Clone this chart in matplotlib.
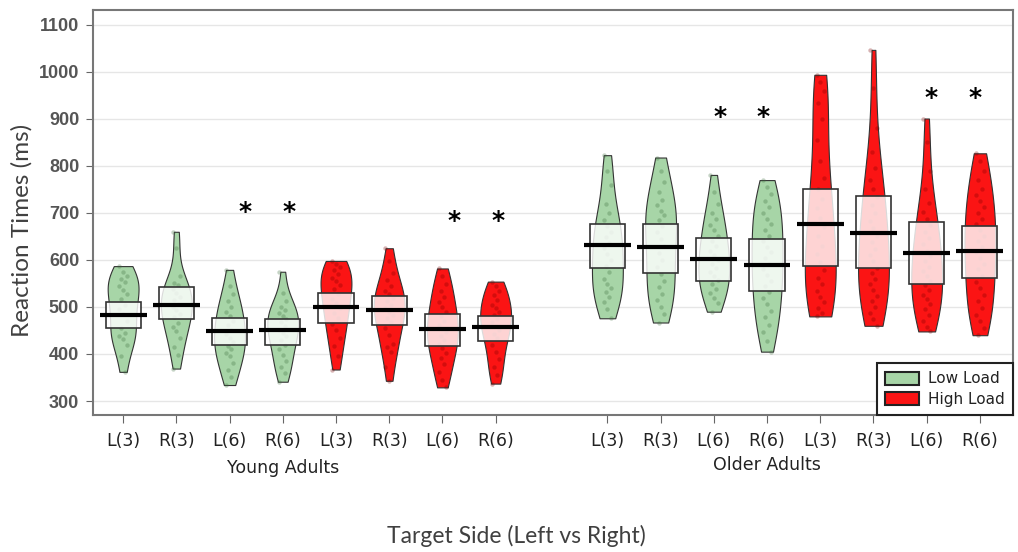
import numpy as np
import matplotlib
matplotlib.use("Agg")
import matplotlib.pyplot as plt
from matplotlib.patches import Patch, Rectangle
from matplotlib.transforms import blended_transform_factory

# ---- data -------------------------------------------------------------
tick_labels = ["L(3)", "R(3)", "L(6)", "R(6)", "L(3)", "R(3)", "L(6)", "R(6)"] * 2
groups = ["Young Adults", "Older Adults"]
loads = ["Low", "Low", "Low", "Low", "High", "High", "High", "High"] * 2

# individual reaction times (ms) per condition
young_low_L3 = [587, 575, 565, 560, 553, 545, 537, 528, 518, 505, 495, 485, 470, 455, 445, 438, 432, 420, 395, 362]
young_low_R3 = [660, 625, 565, 552, 546, 538, 530, 522, 515, 507, 500, 493, 485, 478, 466, 458, 448, 433, 415, 398, 369]
young_low_L6 = [579, 545, 528, 512, 500, 490, 480, 470, 462, 452, 443, 435, 425, 417, 410, 402, 395, 380, 365, 352, 334]
young_low_R6 = [575, 530, 512, 500, 493, 487, 481, 475, 468, 460, 452, 445, 438, 430, 420, 410, 398, 385, 372, 360, 341]
young_high_L3 = [598, 592, 585, 578, 570, 562, 555, 547, 538, 528, 518, 508, 498, 488, 476, 463, 450, 435, 418, 395, 367]
young_high_R3 = [625, 598, 572, 558, 545, 535, 527, 520, 512, 505, 498, 490, 483, 476, 468, 455, 440, 422, 415, 405, 372, 343]
young_high_L6 = [582, 565, 548, 535, 522, 510, 500, 490, 480, 470, 462, 454, 446, 438, 430, 422, 413, 403, 392, 378, 362, 345, 329]
young_high_R6 = [554, 545, 535, 525, 515, 505, 497, 490, 482, 475, 468, 460, 452, 443, 433, 420, 405, 390, 372, 355, 337]
older_low_L3 = [823, 790, 760, 720, 700, 685, 672, 660, 648, 636, 625, 612, 600, 588, 575, 560, 548, 540, 532, 522, 510, 495, 476]
older_low_R3 = [818, 790, 765, 745, 728, 716, 705, 695, 685, 672, 660, 645, 630, 615, 600, 585, 570, 556, 542, 528, 515, 500, 485, 467]
older_low_L6 = [781, 745, 720, 700, 688, 675, 663, 650, 640, 630, 620, 610, 600, 592, 584, 575, 566, 557, 548, 539, 530, 520, 508, 490]
older_low_R6 = [770, 755, 740, 725, 712, 700, 688, 676, 664, 652, 640, 628, 616, 604, 592, 580, 568, 556, 544, 532, 520, 506, 492, 478, 462, 446, 428, 405]
older_high_L3 = [994, 978, 960, 935, 900, 855, 810, 775, 750, 730, 710, 690, 670, 650, 630, 612, 595, 578, 562, 548, 535, 522, 510, 498, 488, 480]
older_high_R3 = [1047, 965, 880, 830, 795, 770, 752, 735, 718, 700, 684, 668, 652, 638, 624, 610, 597, 584, 572, 560, 548, 536, 524, 512, 500, 488, 475, 460]
older_high_L6 = [901, 850, 790, 750, 722, 702, 688, 674, 660, 646, 633, 620, 608, 597, 586, 576, 566, 556, 546, 536, 526, 516, 506, 495, 483, 470, 458, 448]
older_high_R6 = [827, 810, 790, 770, 752, 738, 725, 712, 700, 688, 676, 664, 652, 640, 628, 616, 604, 592, 580, 567, 554, 540, 526, 512, 498, 484, 470, 456, 440]

samples = [young_low_L3, young_low_R3, young_low_L6, young_low_R6,
           young_high_L3, young_high_R3, young_high_L6, young_high_R6,
           older_low_L3, older_low_R3, older_low_L6, older_low_R6,
           older_high_L3, older_high_R3, older_high_L6, older_high_R6]

means = [484, 505, 449, 450, 501, 494, 453, 457,
         632, 628, 603, 589, 677, 657, 614, 619]
band_low = [455, 474, 420, 420, 467, 462, 417, 428,
            582, 573, 556, 534, 587, 583, 549, 561]
band_high = [511, 542, 477, 475, 529, 523, 485, 481,
             677, 677, 646, 645, 752, 737, 680, 673]

# significance markers: (x position, y value)
star_x = [3.3, 4.11, 7.21, 8.04, 12.21, 13.02, 16.18, 17.01]
star_y = [702, 702, 682, 682, 905, 905, 945, 945]

# ---- style ------------------------------------------------------------
GREEN = "#a7d5a7"
RED = "#fb1414"
colors = {"Low": GREEN, "High": RED}
dot_colors = {"Low": "#3f6f3f", "High": "#7a0000"}

positions = list(np.arange(1, 9)) + list(np.arange(1, 9) + 9.1)

fig = plt.figure(figsize=(10.18, 5.52), dpi=100)
ax = fig.add_axes([0.0914, 0.248, 0.9036, 0.734])

parts = ax.violinplot(samples, positions=positions, widths=0.58,
                      showextrema=False, bw_method=0.5)
for body, ld in zip(parts["bodies"], loads):
    body.set_facecolor(colors[ld])
    body.set_edgecolor("#333333")
    body.set_linewidth(0.8)
    body.set_alpha(1)
    body.set_zorder(2)

# jittered raw observations
for pos, vals, ld in zip(positions, samples, loads):
    n = len(vals)
    offs = (((np.arange(n) * 7) % 5) - 2) * 0.035
    ax.scatter(pos + offs, vals, s=10, color=dot_colors[ld], alpha=0.3,
               linewidths=0, zorder=3)

# inference bands and means
for pos, lo, hi, m in zip(positions, band_low, band_high, means):
    ax.add_patch(Rectangle((pos - 0.33, lo), 0.66, hi - lo,
                           facecolor="white", alpha=0.82,
                           edgecolor="none", zorder=4))
    ax.add_patch(Rectangle((pos - 0.33, lo), 0.66, hi - lo,
                           facecolor="none", edgecolor="#333333",
                           linewidth=1.2, zorder=5))
    ax.plot([pos - 0.44, pos + 0.44], [m, m], color="black", lw=3,
            solid_capstyle="butt", zorder=6)

for x, y in zip(star_x, star_y):
    ax.text(x, y, "*", ha="center", va="center", fontsize=18,
            fontweight="bold", color="black")

ax.set_xlim(0.435, 17.72)
ax.set_ylim(270, 1132)
ax.set_yticks(np.arange(300, 1101, 100))
ax.set_xticks(positions)
ax.set_xticklabels(tick_labels, fontsize=12.5, color="#222222")
for lab in ax.get_yticklabels():
    lab.set_fontfamily("Liberation Sans")
    lab.set_fontweight("bold")
    lab.set_fontsize(13)
    lab.set_color("#555555")
ax.tick_params(axis="x", length=6, color="#666666", pad=6)
ax.tick_params(axis="y", length=5, color="#666666", pad=5)
ax.grid(axis="y", color="#e6e6e6", linewidth=1)
ax.set_axisbelow(True)
for sp in ax.spines.values():
    sp.set_color("#777777")
    sp.set_linewidth(1.5)

tr = blended_transform_factory(ax.transData, fig.transFigure)
ax.text(positions[3], 0.152, groups[0], transform=tr, ha="center",
        va="center", fontsize=12.5, color="#222222")
ax.text(positions[11], 0.157, groups[1], transform=tr, ha="center",
        va="center", fontsize=12.5, color="#222222")

fig.text(0.0216, 0.583, "Reaction Times (ms)", rotation=90, ha="center",
         va="center", fontsize=17.5, family="Lato", color="#404040")
fig.text(0.507, 0.029, "Target Side (Left vs Right)", ha="center",
         va="center", fontsize=16.5, family="Lato", color="#404040")

handles = [Patch(facecolor=GREEN, edgecolor="#222222", linewidth=1.5, label="Low Load"),
           Patch(facecolor=RED, edgecolor="#222222", linewidth=1.5, label="High Load")]
leg = ax.legend(handles=handles, loc="lower right", fontsize=11,
                frameon=True, fancybox=False, borderaxespad=0,
                handlelength=2.2, handleheight=0.95, handletextpad=0.6,
                borderpad=0.55, labelspacing=0.35, framealpha=1)
leg.get_frame().set_edgecolor("#222222")
leg.get_frame().set_linewidth(1.5)
for t in leg.get_texts():
    t.set_color("#222222")

fig.savefig("out.png", dpi=100)
